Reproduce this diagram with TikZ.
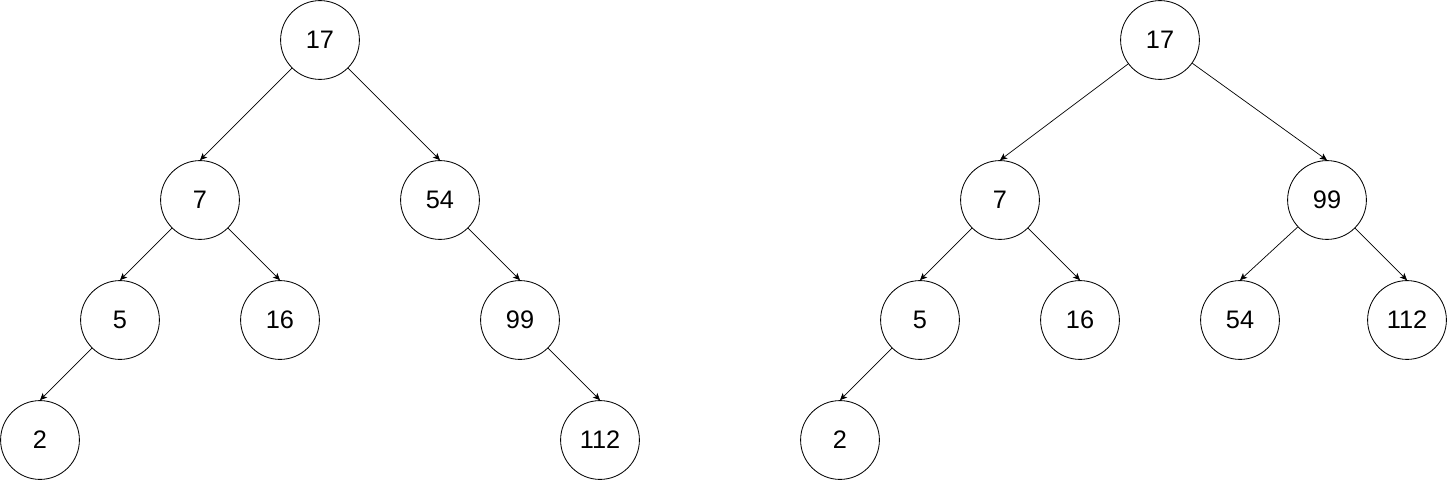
\documentclass[tikz,border=0pt]{standalone}
\usepackage{fontspec}
\setmainfont{Liberation Sans}
\usetikzlibrary{arrows.meta}

\begin{document}
\begin{tikzpicture}[x=0.025cm, y=-0.025cm,
            key/.style={draw, circle, minimum size=1.97cm, inner sep=0pt, line width=0.6pt, font=\fontsize{18}{21}\selectfont},
            edge/.style={-{Stealth[length=5pt, width=4.5pt, inset=1.2pt]}, line width=0.5pt}]
            \useasboundingbox (0, 0) rectangle (1449, 481);
            % before
            \node[key] (a17) at (320, 40) {17};
            \node[key] (a7) at (200, 200) {7};
            \node[key] (a54) at (440, 200) {54};
            \node[key] (a5) at (120, 320) {5};
            \node[key] (a16) at (280, 320) {16};
            \node[key] (a99) at (520, 320) {99};
            \node[key] (a2) at (40, 440) {2};
            \node[key] (a112) at (600, 440) {112};
            \draw[edge] (a17) -- (a7.north);
            \draw[edge] (a17) -- (a54.north);
            \draw[edge] (a7) -- (a5.north);
            \draw[edge] (a7) -- (a16.north);
            \draw[edge] (a54) -- (a99.north);
            \draw[edge] (a5) -- (a2.north);
            \draw[edge] (a99) -- (a112.north);
            % after
            \node[key] (b17) at (1160, 40) {17};
            \node[key] (b7) at (1000, 200) {7};
            \node[key] (b99) at (1327, 200) {99};
            \node[key] (b5) at (920, 320) {5};
            \node[key] (b16) at (1080, 320) {16};
            \node[key] (b54) at (1240, 320) {54};
            \node[key] (b112) at (1407, 320) {112};
            \node[key] (b2) at (840, 440) {2};
            \draw[edge] (b17) -- (b7.north);
            \draw[edge] (b17) -- (b99.north);
            \draw[edge] (b7) -- (b5.north);
            \draw[edge] (b7) -- (b16.north);
            \draw[edge] (b99) -- (b54.north);
            \draw[edge] (b99) -- (b112.north);
            \draw[edge] (b5) -- (b2.north);
        \end{tikzpicture}
\end{document}
